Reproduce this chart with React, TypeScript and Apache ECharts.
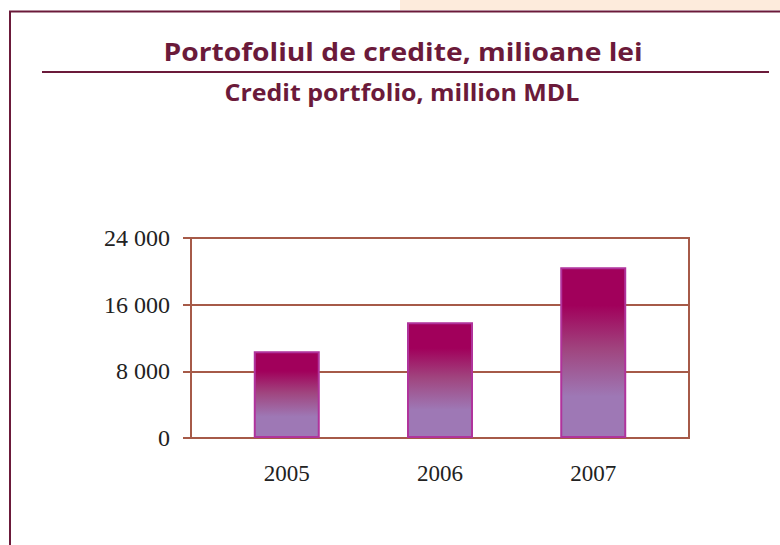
import React, { useEffect, useRef } from "react";
import * as echarts from "echarts";

const years = [2005, 2006, 2007];
const credits = [10400, 13900, 20500];
const yTicks = [0, 8000, 16000, 24000];
const titleRo = "Portofoliul de credite, milioane lei";
const titleEn = "Credit portfolio, million MDL";

const fmtThousands = (v: number) =>
  String(v).replace(/\B(?=(\d{3})+(?!\d))/g, " ");

export default function App() {
  const ref = useRef<HTMLDivElement>(null);
  useEffect(() => {
    document.body.style.margin = "0";
    const chart = echarts.init(ref.current!, null, { renderer: "svg" });
    const maroon = "#6B1A3A";
    const gridColor = "#A65A48";
    const barGrad = new echarts.graphic.LinearGradient(0, 0, 0, 1, [
      { offset: 0, color: "#A1005B" },
      { offset: 0.22, color: "#A1005B" },
      { offset: 0.48, color: "#A0457F" },
      { offset: 0.76, color: "#9E78B5" },
      { offset: 1, color: "#9E78B5" },
    ]);
    chart.setOption({
      animation: false,
      backgroundColor: "#ffffff",
      graphic: [
        { type: "rect", shape: { x: 400, y: 0, width: 380, height: 10 }, style: { fill: "#FDEBDC" } },
        { type: "line", shape: { x1: 9, y1: 11.5, x2: 780, y2: 11.5 }, style: { stroke: maroon, lineWidth: 2 } },
        { type: "line", shape: { x1: 10, y1: 11, x2: 10, y2: 545 }, style: { stroke: maroon, lineWidth: 2 } },
        { type: "line", shape: { x1: 42, y1: 72, x2: 769, y2: 72 }, style: { stroke: maroon, lineWidth: 2 } },
        {
          type: "text", x: 403, y: 51, scaleX: 1.13,
          style: { text: titleRo, fill: maroon, font: "bold 25px 'Open Sans'", textAlign: "center", textVerticalAlign: "middle" },
        },
        {
          type: "text", x: 402, y: 92, scaleX: 1.04,
          style: { text: titleEn, fill: maroon, font: "bold 24px 'Open Sans'", textAlign: "center", textVerticalAlign: "middle" },
        },
      ],
      grid: {
        left: 191, right: 91, top: 238, bottom: 107,
        show: true, borderColor: gridColor, borderWidth: 2, backgroundColor: "transparent",
      },
      xAxis: {
        type: "value",
        min: 2004.375,
        max: 2007.625,
        axisLine: { show: true, lineStyle: { color: gridColor, width: 2 } },
        axisTick: { show: false },
        splitLine: { show: false },
        axisLabel: {
          customValues: years,
          formatter: (v: number) => String(v),
          color: "#222222",
          fontFamily: "'Liberation Serif', serif",
          fontSize: 23,
          margin: 24,
        },
      },
      yAxis: {
        type: "value",
        min: yTicks[0],
        max: yTicks[yTicks.length - 1],
        interval: yTicks[1] - yTicks[0],
        axisLine: { show: true, lineStyle: { color: gridColor, width: 2 } },
        axisTick: { show: true, length: 8, lineStyle: { color: gridColor, width: 2 } },
        splitLine: { show: true, lineStyle: { color: gridColor, width: 2 } },
        axisLabel: {
          formatter: (v: number) => fmtThousands(v),
          color: "#222222",
          fontFamily: "'Liberation Serif', serif",
          fontSize: 24,
          margin: 21,
        },
      },
      series: [
        {
          type: "bar",
          data: years.map((y, i) => [y, credits[i]]),
          barWidth: 66,
          itemStyle: { color: barGrad, borderColor: "#B0339C", borderWidth: 2 },
        },
      ],
    });
    return () => chart.dispose();
  }, []);
  return <div ref={ref} style={{ width: 780, height: 545 }} />;
}
